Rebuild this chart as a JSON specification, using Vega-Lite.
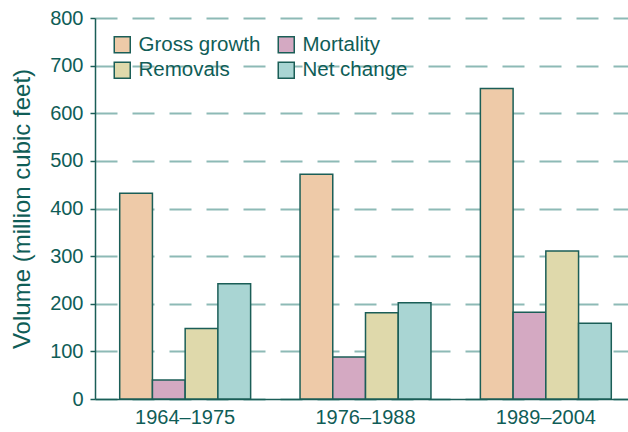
{
  "$schema": "https://vega.github.io/schema/vega-lite/v6.json",
  "width": 541,
  "height": 381,
  "autosize": {"type": "none"},
  "padding": {"left": 95, "top": 18, "right": 0, "bottom": 33},
  "background": "white",
  "config": {
    "view": {"stroke": null},
    "font": "Liberation Sans",
    "axis": {"labelColor": "#0f5d57", "titleColor": "#0f5d57", "domainColor": "#1b5e57", "tickColor": "#1b5e57", "domainWidth": 1.5}
  },
  "data": {
    "values": [
      {"period": "1964–1975", "component": "Gross growth", "value": 432},
      {"period": "1964–1975", "component": "Mortality", "value": 40},
      {"period": "1964–1975", "component": "Removals", "value": 148},
      {"period": "1964–1975", "component": "Net change", "value": 242},
      {"period": "1976–1988", "component": "Gross growth", "value": 472},
      {"period": "1976–1988", "component": "Mortality", "value": 88},
      {"period": "1976–1988", "component": "Removals", "value": 181},
      {"period": "1976–1988", "component": "Net change", "value": 202},
      {"period": "1989–2004", "component": "Gross growth", "value": 652},
      {"period": "1989–2004", "component": "Mortality", "value": 182},
      {"period": "1989–2004", "component": "Removals", "value": 311},
      {"period": "1989–2004", "component": "Net change", "value": 159}
    ]
  },
  "mark": {"type": "bar", "stroke": "#1b5e57", "strokeWidth": 1.5},
  "encoding": {
    "x": {
      "field": "period",
      "type": "nominal",
      "sort": null,
      "scale": {"paddingInner": 0.274, "paddingOuter": 0.137},
      "axis": {"title": null, "labelAngle": 0, "ticks": false, "labelFontSize": 20, "labelPadding": 8, "grid": false}
    },
    "xOffset": {
      "field": "component",
      "type": "nominal",
      "sort": ["Gross growth", "Mortality", "Removals", "Net change"],
      "scale": {"paddingInner": 0, "paddingOuter": 0}
    },
    "y": {
      "field": "value",
      "type": "quantitative",
      "scale": {"domain": [0, 800], "nice": false},
      "axis": {
        "title": "Volume (million cubic feet)",
        "titleFontSize": 24,
        "titleFontWeight": "normal",
        "titlePadding": 15,
        "values": [0, 100, 200, 300, 400, 500, 600, 700, 800],
        "labelFontSize": 20,
        "labelPadding": 7,
        "tickSize": 5,
        "tickWidth": 1.5,
        "grid": true,
        "gridColor": "#8dbab6",
        "gridWidth": 2,
        "gridDash": [22, 15]
      }
    },
    "color": {
      "field": "component",
      "type": "nominal",
      "scale": {
        "domain": ["Gross growth", "Mortality", "Removals", "Net change"],
        "range": ["#eecaa8", "#d4a9c2", "#dfd9ab", "#a9d5d3"]
      },
      "legend": {
        "title": null,
        "orient": "none",
        "legendX": 17,
        "legendY": 16,
        "direction": "horizontal",
        "columns": 2,
        "columnPadding": 14,
        "rowPadding": 3,
        "symbolType": "square",
        "symbolSize": 256,
        "symbolStrokeColor": "#1b5e57",
        "symbolStrokeWidth": 1.5,
        "symbolOpacity": 1,
        "labelFontSize": 20.5,
        "labelColor": "#0f5d57",
        "labelOffset": 6
      }
    }
  }
}
